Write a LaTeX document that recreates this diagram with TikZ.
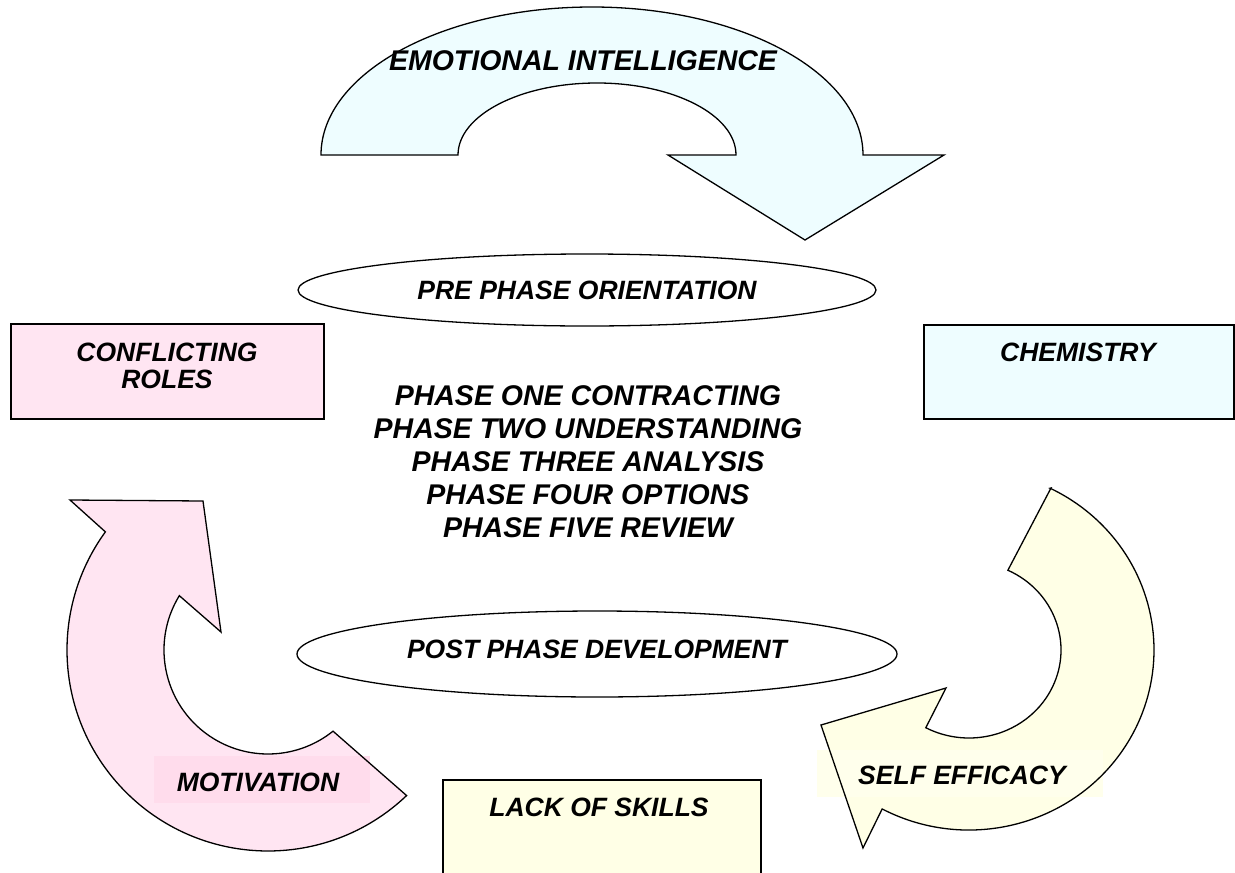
\documentclass[tikz,border=0pt]{standalone}
\usepackage{fontspec}
\setmainfont{Liberation Sans}
\usetikzlibrary{shapes.geometric}
\definecolor{cyanfill}{HTML}{EEFDFF}
\definecolor{pinkfill}{HTML}{FFE5F2}
\definecolor{pinkbox}{HTML}{FFDCEC}
\definecolor{yellowfill}{HTML}{FFFFE6}
\definecolor{yellowbox}{HTML}{FFFFEC}
\tikzset{
  lbl/.style={font=\fontsize{26.5}{30}\selectfont\bfseries\itshape, align=center, inner sep=0pt},
  biglbl/.style={font=\fontsize{28.5}{33}\selectfont\bfseries\itshape, align=center, inner sep=0pt},
  outline/.style={draw=black, line width=1.3pt, line join=miter},
  boxstyle/.style={draw=black, line width=1.6pt},
  ovalstyle/.style={draw=black, line width=1.3pt, fill=white, ellipse}
}
\begin{document}
\begin{tikzpicture}[x=1pt,y=-1pt]
\useasboundingbox (0,0) rectangle (1235,873);
\fill[white] (0,0) rectangle (1235,873);

% arrow shapes
\def\eiarrow{(321,155) arc[start angle=180,end angle=360,x radius=271,y radius=148] -- (944,155) -- (805,240) -- (668,155) -- (736,155) arc[start angle=0,end angle=-180,x radius=139,y radius=72] -- cycle}
\def\searrow{(1051,488) -- ({969+92*cos(-65)},{650+88*sin(-65)}) arc[start angle=-65,end angle=118,x radius=92,y radius=88] -- (946,688) -- (821,725) -- (863,848) -- ({969+185*cos(118)},{650+180*sin(118)}) arc[start angle=118,end angle=-64,x radius=185,y radius=180] -- cycle}
\def\motarrow{(70,500) -- (203,501) -- (221,632) -- ({268+104*cos(211.5)},{650+104*sin(211.5)}) arc[start angle=211.5,end angle=51.3,radius=104] -- ({268+201*cos(46.4)},{650+201*sin(46.4)}) arc[start angle=46.4,end angle=216,radius=201] -- cycle}

\fill[cyanfill] \eiarrow;
\fill[yellowfill] \searrow;
\fill[pinkfill] \motarrow;

% text-box backgrounds
\fill[yellowbox] (817,750) rectangle (1103,797);
\fill[pinkbox] (154,756) rectangle (370,803);

\draw[outline] \eiarrow;
\draw[outline] \searrow;
\draw[outline] \motarrow;

% boxes
\node[boxstyle, fill=pinkfill, minimum width=313pt, minimum height=95pt, anchor=north west] (conf) at (10,323) {};
\node[boxstyle, fill=cyanfill, minimum width=310pt, minimum height=94pt, anchor=north west] (chem) at (923,324) {};
\node[boxstyle, fill=yellowfill, minimum width=318pt, minimum height=120pt, anchor=north west] (lack) at (442,779) {};

% ellipses
\node[ovalstyle, minimum width=578pt, minimum height=72pt] (pre) at (587,290) {};
\node[ovalstyle, minimum width=600pt, minimum height=86pt] (post) at (597,654) {};

% labels
\node[biglbl] (ei) at (583,61) {EMOTIONAL INTELLIGENCE};
\node[lbl] (pret) at (pre) {PRE PHASE ORIENTATION};
\node[lbl] (postt) at (597,649) {POST PHASE DEVELOPMENT};
\node[lbl, font=\fontsize{26.5}{27}\selectfont\bfseries\itshape] (conft) at (167,366) {CONFLICTING\\ROLES};
\node[lbl] (chemt) at (1078,352) {CHEMISTRY};
\node[lbl] (lackt) at (599,807) {LACK OF SKILLS};
\node[lbl] (mott) at (258,782) {MOTIVATION};
\node[lbl] (set) at (962,775) {SELF EFFICACY};
\node[biglbl] (phases) at (588,462) {PHASE ONE CONTRACTING\\PHASE TWO UNDERSTANDING\\PHASE THREE ANALYSIS\\PHASE FOUR OPTIONS\\PHASE FIVE REVIEW};
\end{tikzpicture}
\end{document}
